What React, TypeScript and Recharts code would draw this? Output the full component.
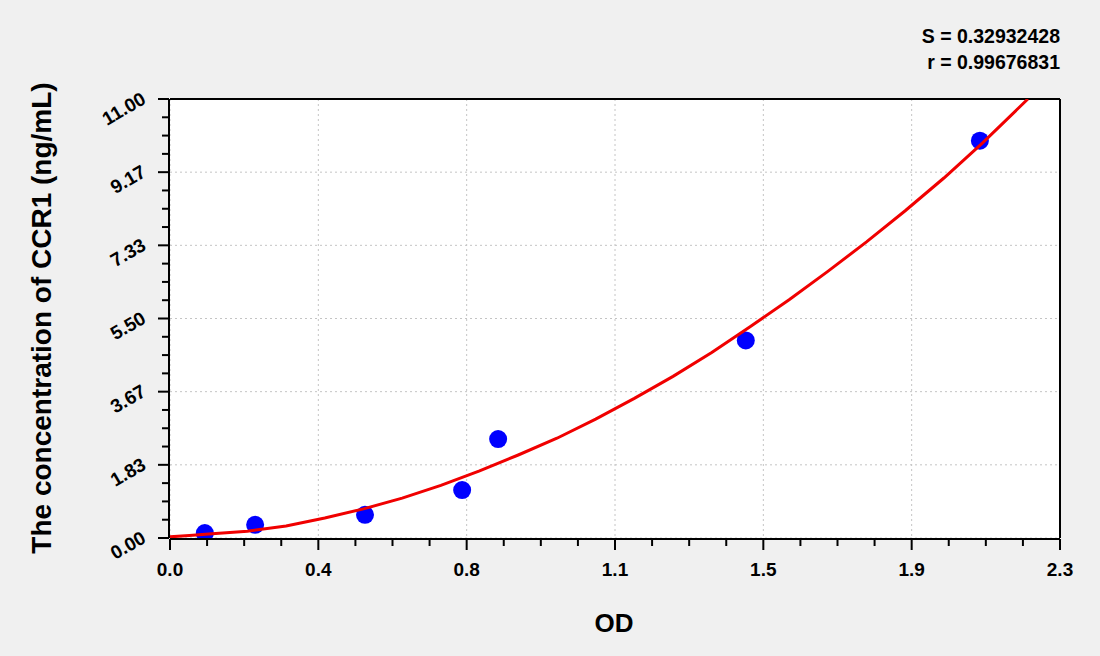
import React from 'react'
import { ScatterChart, Scatter, XAxis, YAxis, CartesianGrid } from 'recharts'

// ── standard curve data ─────────────────────────────────────────────────────
const odValues = [0.09, 0.22, 0.504, 0.755, 0.848, 1.488, 2.093]
const concValues = [0.125, 0.33, 0.58, 1.2, 2.48, 4.95, 9.955]

// fitted curve, sampled from the red line
const fitOd = [0.0, 0.05, 0.1, 0.2, 0.3, 0.4, 0.5, 0.6, 0.7, 0.8, 0.9, 1.0, 1.1, 1.2, 1.3, 1.4, 1.5, 1.6, 1.7, 1.8, 1.9, 2.0, 2.1, 2.217]
const fitConc = [0.03, 0.06, 0.1, 0.17, 0.3, 0.5, 0.73, 1.0, 1.32, 1.68, 2.08, 2.5, 2.98, 3.5, 4.05, 4.65, 5.3, 5.97, 6.68, 7.42, 8.2, 9.02, 9.9, 11.0]

// ── axes ────────────────────────────────────────────────────────────────────
const xTicks = [0, 0.383333, 0.766667, 1.15, 1.533333, 1.916667, 2.3]
const xTickLabels = ['0.0', '0.4', '0.8', '1.1', '1.5', '1.9', '2.3']
const xMinorTicks = [
  0.095833, 0.191667, 0.2875, 0.479167, 0.575, 0.670833, 0.8625, 0.958333, 1.054167,
  1.245833, 1.341667, 1.4375, 1.629167, 1.725, 1.820833, 2.0125, 2.108333, 2.204167,
]
const yTicks = [0, 1.833333, 3.666667, 5.5, 7.333333, 9.166667, 11]
const yTickLabels = ['0.00', '1.83', '3.67', '5.50', '7.33', '9.17', '11.00']
const yMinorTicks = [
  0.458333, 0.916667, 1.375, 2.291667, 2.75, 3.208333, 4.125, 4.583333, 5.041667,
  5.958333, 6.416667, 6.875, 7.791667, 8.25, 8.708333, 9.625, 10.083333, 10.541667,
]

const stats = ['S = 0.32932428', 'r = 0.99676831']

const FONT = "'Liberation Sans', Arial, sans-serif"

const points = odValues.map((od, i) => ({ od, conc: concValues[i] }))
const curve = fitOd.map((od, i) => ({ od, conc: fitConc[i] }))

// eslint-disable-next-line @typescript-eslint/no-explicit-any
const XMajorTick = (props: any) => {
  const { x, y, index, payload } = props
  const i = index ?? xTicks.indexOf(payload?.value)
  return (
    <g>
      <line x1={x} y1={y} x2={x} y2={y + 11} stroke="#000" strokeWidth={2} />
      <text x={x} y={y + 37} textAnchor="middle" fontSize={19} fontWeight="bold" fill="#000" fontFamily={FONT}>
        {xTickLabels[i]}
      </text>
    </g>
  )
}

// eslint-disable-next-line @typescript-eslint/no-explicit-any
const XMinorTick = (props: any) => (
  <line x1={props.x} y1={props.y} x2={props.x} y2={props.y + 8} stroke="#000" strokeWidth={2} />
)

// eslint-disable-next-line @typescript-eslint/no-explicit-any
const YMajorTick = (props: any) => {
  const { x, y, index, payload } = props
  const i = index ?? yTicks.indexOf(payload?.value)
  const tx = x - 25
  const ty = y - 2
  return (
    <g>
      <line x1={x} y1={y} x2={x - 11} y2={y} stroke="#000" strokeWidth={2} />
      <text
        x={tx}
        y={ty}
        textAnchor="end"
        dominantBaseline="central"
        transform={`rotate(-30, ${tx}, ${ty})`}
        fontSize={19}
        fontWeight="bold"
        fill="#000"
        fontFamily={FONT}
      >
        {yTickLabels[i]}
      </text>
    </g>
  )
}

// eslint-disable-next-line @typescript-eslint/no-explicit-any
const YMinorTick = (props: any) => (
  <line x1={props.x} y1={props.y} x2={props.x - 8} y2={props.y} stroke="#000" strokeWidth={2} />
)

// eslint-disable-next-line @typescript-eslint/no-explicit-any
const Dot = (props: any) => <circle cx={props.cx} cy={props.cy} r={9} fill="#0000ff" />

const axisLine = { stroke: '#000', strokeWidth: 2 }

export default function App() {
  return (
    <div
      style={{
        position: 'absolute', left: 0, top: 0, width: 1100, height: 656,
        background: '#f0f0f0', overflow: 'hidden', fontFamily: FONT,
      }}
    >
      <ScatterChart width={1100} height={656} margin={{ top: 98, right: 39, bottom: 116, left: 168 }}>
        <CartesianGrid xAxisId="x" yAxisId="y" fill="#fff" stroke="#c4c4c4" strokeDasharray="2 3" />
        <XAxis
          xAxisId="x" type="number" dataKey="od" domain={[0, 2.3]} allowDataOverflow
          ticks={xTicks} interval={0} height={1} tickSize={0} tickMargin={0}
          tickLine={false} axisLine={axisLine} tick={<XMajorTick />}
        />
        <XAxis
          xAxisId="minor" type="number" dataKey="od" domain={[0, 2.3]} allowDataOverflow
          ticks={xMinorTicks} interval={0} height={1} tickSize={0} tickMargin={0}
          tickLine={false} axisLine={false} tick={<XMinorTick />}
        />
        <XAxis
          xAxisId="top" orientation="top" type="number" domain={[0, 2.3]} allowDataOverflow
          height={1} tick={false} tickLine={false} axisLine={axisLine}
        />
        <YAxis
          yAxisId="y" type="number" dataKey="conc" domain={[0, 11]} allowDataOverflow
          ticks={yTicks} interval={0} width={1} tickSize={0} tickMargin={0}
          tickLine={false} axisLine={axisLine} tick={<YMajorTick />}
        />
        <YAxis
          yAxisId="minor" type="number" dataKey="conc" domain={[0, 11]} allowDataOverflow
          ticks={yMinorTicks} interval={0} width={1} tickSize={0} tickMargin={0}
          tickLine={false} axisLine={false} tick={<YMinorTick />}
        />
        <YAxis
          yAxisId="right" orientation="right" type="number" domain={[0, 11]} allowDataOverflow
          width={1} tick={false} tickLine={false} axisLine={axisLine}
        />
        <Scatter xAxisId="x" yAxisId="y" data={points} shape={<Dot />} isAnimationActive={false} />
        <Scatter
          xAxisId="x" yAxisId="y" data={curve}
          line={{ stroke: '#f00000', strokeWidth: 3 }} lineType="joint"
          shape={() => <g />} isAnimationActive={false}
        />
      </ScatterChart>

      {stats.map((s, i) => (
        <div
          key={s}
          style={{
            position: 'absolute', right: 40, top: 27 + i * 26, fontSize: 19.5,
            lineHeight: '19.5px', fontWeight: 'bold', color: '#000', whiteSpace: 'nowrap',
          }}
        >
          {s}
        </div>
      ))}

      <div
        style={{
          position: 'absolute', left: 514, top: 610, width: 200, textAlign: 'center',
          fontSize: 26, lineHeight: '26px', fontWeight: 'bold', color: '#000',
        }}
      >
        OD
      </div>

      <div
        style={{
          position: 'absolute', left: 42 - 300, top: 318 - 14, width: 600, height: 28,
          textAlign: 'center', fontSize: 28, lineHeight: '28px', fontWeight: 'bold',
          color: '#000', transform: 'rotate(-90deg)', whiteSpace: 'nowrap',
        }}
      >
        The concentration of CCR1 (ng/mL)
      </div>
    </div>
  )
}
